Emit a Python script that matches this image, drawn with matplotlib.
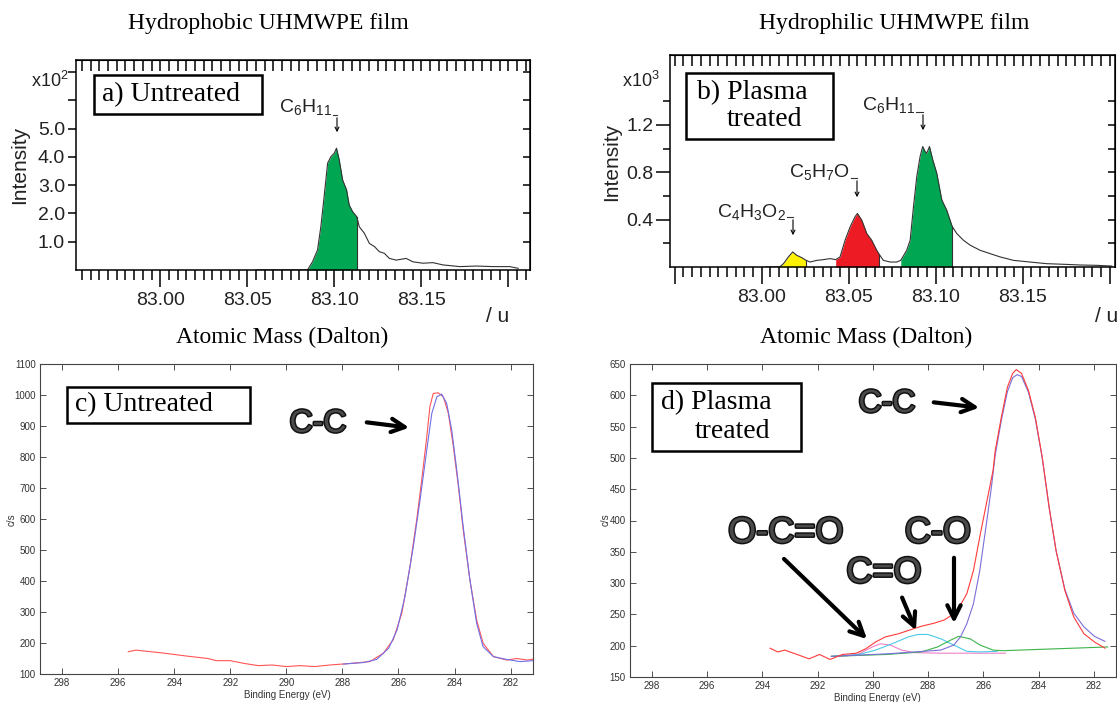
import matplotlib
matplotlib.use('Agg')
import matplotlib.pyplot as plt
import matplotlib.patheffects as pe
from matplotlib.patches import Rectangle, FancyArrowPatch
from matplotlib.ticker import MultipleLocator, FuncFormatter

W, H = 1117, 702

# a) ToF-SIMS, hydrophobic (untreated) film, intensity in x10^2
mass_a = [83.0550, 83.0846, 83.0875, 83.0904, 83.0923, 83.0942, 83.0962, 83.0981,
          83.1000, 83.1013, 83.1029, 83.1048, 83.1071, 83.1086, 83.1106, 83.1129,
          83.1144, 83.1173, 83.1202, 83.1231, 83.1259, 83.1288, 83.1317, 83.1356,
          83.1413, 83.1452, 83.1509, 83.1567, 83.1625, 83.1721, 83.1817, 83.1913,
          83.2009, 83.2057]
int_a = [0.0, 0.0, 0.29, 0.71, 1.53, 2.60, 3.78, 4.01,
         4.13, 4.31, 3.89, 3.19, 2.83, 2.30, 2.06, 1.89,
         1.53, 1.30, 0.94, 0.83, 0.65, 0.59, 0.41, 0.35,
         0.41, 0.29, 0.24, 0.26, 0.18, 0.12, 0.14, 0.12,
         0.12, 0.06]
fill_a = [(83.0846, 83.1129, '#00a651')]

# b) ToF-SIMS, hydrophilic (plasma treated) film, intensity in x10^3
mass_b = [83.0025, 83.0102, 83.0125, 83.0153, 83.0178, 83.0201, 83.0230, 83.0255,
          83.0278, 83.0316, 83.0354, 83.0393, 83.0425, 83.0450, 83.0479, 83.0508,
          83.0536, 83.0550, 83.0575, 83.0604, 83.0632, 83.0661, 83.0676, 83.0699,
          83.0738, 83.0776, 83.0799, 83.0833, 83.0853, 83.0872, 83.0891, 83.0910,
          83.0925, 83.0939, 83.0948, 83.0964, 83.0983, 83.1006, 83.1035, 83.1063,
          83.1092, 83.1096, 83.1121, 83.1159, 83.1198, 83.1255, 83.1312, 83.1370,
          83.1447, 83.1542, 83.1638, 83.1734, 83.1830, 83.1926, 83.2012]
int_b = [0.0, 0.0, 0.028, 0.085, 0.127, 0.099, 0.079, 0.056,
         0.042, 0.056, 0.062, 0.071, 0.062, 0.085, 0.226, 0.339,
         0.424, 0.452, 0.395, 0.282, 0.226, 0.141, 0.105, 0.056,
         0.042, 0.042, 0.056, 0.141, 0.226, 0.508, 0.763, 0.932,
         1.017, 0.975, 0.960, 1.017, 0.904, 0.791, 0.565, 0.480,
         0.353, 0.339, 0.282, 0.226, 0.184, 0.141, 0.113, 0.085,
         0.056, 0.042, 0.028, 0.023, 0.017, 0.014, 0.008]
fill_b = [(83.0102, 83.0255, '#fff200'),
          (83.0425, 83.0676, '#ed1c24'),
          (83.0799, 83.1096, '#00a651')]

# c) XPS C1s, untreated: measured (red) and fit (blue)
be_c = [295.64, 295.36, 294.85, 294.34, 293.57, 292.8, 292.5, 292.0, 291.5, 291.0,
        290.5, 290.0, 289.5, 289.0, 288.45, 287.73, 287.02, 286.54, 286.19, 285.88,
        285.59, 285.35, 285.17, 284.99, 284.88, 284.76, 284.58, 284.40, 284.22, 284.04,
        283.86, 283.69, 283.45, 283.21, 282.98, 282.61, 282.14, 281.78, 281.4, 281.2]
cps_c = [172, 177, 172, 167, 158, 150, 143, 143, 134, 127,
         129, 124, 127, 124, 129, 134, 140, 167, 210, 296,
         446, 597, 726, 865, 962, 1005, 1007, 994, 941, 833,
         704, 565, 403, 274, 199, 156, 145, 150, 145, 148]
be_c_fit = [287.97, 287.24, 286.78, 286.35, 286.05, 285.77, 285.47, 285.23, 284.99, 284.81,
            284.63, 284.46, 284.28, 284.10, 283.92, 283.69, 283.45, 283.21, 282.98, 282.61,
            282.14, 281.66, 281.36, 281.2]
cps_c_fit = [132, 137, 147, 183, 242, 349, 511, 661, 823, 941,
             994, 1003, 973, 887, 758, 575, 403, 263, 188, 156,
             147, 140, 142, 143]

# d) XPS C1s, plasma treated: measured envelope and fitted components
be_d = [293.72, 293.44, 293.19, 292.68, 292.31, 291.93, 291.55, 291.1, 290.6, 290.26,
        289.9, 289.55, 289.08, 288.6, 288.25, 287.78, 287.42, 287.07, 286.83, 286.6,
        286.36, 286.13, 285.89, 285.65, 285.57, 285.35, 285.13, 284.94, 284.81, 284.62,
        284.37, 284.12, 283.87, 283.62, 283.37, 283.05, 282.73, 282.36, 281.98, 281.6]
cps_d = [196, 190, 193, 185, 179, 186, 178, 186, 188, 195,
         206, 214, 219, 226, 231, 236, 241, 251, 265, 283,
         320, 374, 427, 480, 512, 565, 613, 635, 641, 635,
         608, 565, 501, 421, 352, 288, 246, 219, 206, 196]
be_cc = [291.5, 290.5, 289.5, 288.5, 287.54, 287.07, 286.83, 286.6, 286.36, 286.13,
         285.89, 285.71, 285.57, 285.35, 285.13, 284.94, 284.78, 284.62, 284.37, 284.12,
         283.87, 283.62, 283.37, 283.05, 282.73, 282.36, 281.98, 281.6]
cps_cc = [183, 185, 187, 190, 193, 201, 214, 235, 267, 320,
          395, 453, 505, 560, 606, 628, 633, 630, 605, 562,
          500, 421, 352, 290, 252, 230, 215, 207]
be_co = [291.5, 289.5, 288.25, 287.66, 287.18, 286.89, 286.48, 286.12, 285.65, 285.3, 281.5]
cps_co = [183, 186, 190, 198, 209, 215, 211, 201, 193, 192, 198]
be_c_o = [291.5, 290.5, 289.9, 289.31, 288.72, 288.37, 288.01, 287.54, 287.07, 286.6, 286.12, 285.5]
cps_c_o = [183, 186, 193, 203, 214, 218, 218, 211, 201, 191, 190, 191]
be_oco = [291.5, 290.9, 290.5, 290.02, 289.73, 289.37, 288.96, 288.5, 287.5, 286.5, 285.2]
cps_oco = [183, 184, 187, 198, 203, 201, 193, 189, 188, 188, 188]

plt.rcParams['font.family'] = ['Liberation Sans', 'DejaVu Sans']
plt.rcParams['mathtext.fontset'] = 'custom'
plt.rcParams['mathtext.rm'] = 'Liberation Sans'
plt.rcParams['mathtext.it'] = 'Liberation Sans'

fig = plt.figure(figsize=(W / 100, H / 100), dpi=100)
fig.patch.set_facecolor('white')
serif = ['Liberation Serif', 'DejaVu Serif']
bond_fx = [pe.withStroke(linewidth=2.2, foreground='#111')]


def frac(x, y):
    return x / W, 1 - y / H


def rect(l, t, r, b):
    return [l / W, 1 - b / H, (r - l) / W, (b - t) / H]


def ftext(x, y, s, **kw):
    fig.text(*frac(x, y), s, **kw)


def bond(x, y, s, size):
    ftext(x, y, s, fontsize=size, ha='center', va='center', color='#4a4a4a',
          path_effects=bond_fx)


def box(x0, y0, x1, y1, lw=1.8):
    fig.add_artist(Rectangle(frac(x0, y1), (x1 - x0) / W, (y1 - y0) / H,
                             transform=fig.transFigure, fill=False, ec='black', lw=lw))


def farrow(x0, y0, x1, y1, lw=3, ms=24, style='->'):
    fig.add_artist(FancyArrowPatch(frac(x0, y0), frac(x1, y1), transform=fig.transFigure,
                                   arrowstyle=style, mutation_scale=ms, lw=lw, color='black'))


def tof_axes(ax, xlim, ylim, yticks, ylabels, yminor, ylen):
    ax.set_xlim(*xlim)
    ax.set_ylim(*ylim)
    for s in ax.spines.values():
        s.set_linewidth(1.1)
    ax.xaxis.set_major_locator(MultipleLocator(0.05))
    ax.xaxis.set_minor_locator(MultipleLocator(0.005))
    ax.xaxis.set_major_formatter(FuncFormatter(
        lambda v, p: f'{v:.2f}' if 82.99 < v < 83.16 else ''))
    ax.tick_params(axis='x', which='major', direction='out', length=12, width=1.1,
                   labelsize=14, pad=4, labelcolor='#222')
    ax.tick_params(axis='x', which='minor', direction='out', length=7, width=1.1)
    ax.set_yticks(yticks)
    ax.set_yticklabels(ylabels)
    ax.set_yticks(yminor, minor=True)
    ax.tick_params(axis='y', which='major', direction='out', length=ylen, width=1.1,
                   labelsize=14, pad=2, labelcolor='#222')
    ax.tick_params(axis='y', which='minor', direction='out', length=5, width=1.1)
    top = ax.secondary_xaxis('top')
    top.xaxis.set_major_locator(MultipleLocator(0.005))
    top.tick_params(direction='in', length=8, width=1.1, labeltop=False)
    right = ax.secondary_yaxis('right')
    right.set_yticks(list(yticks) + list(yminor))
    right.tick_params(direction='in', length=5, width=1.1, labelright=False)


def tof_plot(ax, mass, inten, fills):
    for lo, hi, col in fills:
        sel = [(m, v) for m, v in zip(mass, inten) if lo <= m <= hi]
        xs = [p[0] for p in sel]
        ys = [p[1] for p in sel]
        ax.fill_between(xs, 0, ys, color=col, lw=0)
        ax.plot([hi, hi], [0, ys[-1]], color='#333', lw=0.8)
    ax.plot(mass, inten, color='#333', lw=0.8)


# ---- panel a
ax_a = fig.add_axes(rect(76, 60, 530, 270))
tof_plot(ax_a, mass_a, int_a, fill_a)
tof_axes(ax_a, (82.9516, 83.2125), (0, 7.43), [1, 2, 3, 4, 5, 6, 7],
         ['1.0', '2.0', '3.0', '4.0', '5.0', '', ''], [], 6)

# ---- panel b
ax_b = fig.add_axes(rect(670, 55, 1115, 267))
tof_plot(ax_b, mass_b, int_b, fill_b)
tof_axes(ax_b, (82.9473, 83.2030), (0, 1.79), [0.4, 0.8, 1.2],
         ['0.4', '0.8', '1.2'], [0.2, 0.6, 1.0, 1.4], 10)

ftext(268, 24, 'Hydrophobic UHMWPE film', family=serif, fontsize=17, ha='center', va='center')
ftext(894, 24, 'Hydrophilic UHMWPE film', family=serif, fontsize=17, ha='center', va='center')
for cx, ux in [(282, 498), (866, 1107)]:
    ftext(cx, 337, 'Atomic Mass (Dalton)', family=serif, fontsize=17, ha='center', va='center')
    ftext(ux, 317, '/ u', fontsize=15, ha='center', va='center', color='#222')
ftext(20, 165, 'Intensity', fontsize=15, rotation=90, ha='center', va='center', color='#222')
ftext(612, 162, 'Intensity', fontsize=15, rotation=90, ha='center', va='center', color='#222')
ftext(50, 81, r'x10$^2$', fontsize=13, ha='center', va='center', color='#222')
ftext(641, 81, r'x10$^3$', fontsize=13, ha='center', va='center', color='#222')

box(94, 75, 262, 114)
ftext(102, 95, 'a) Untreated', family=serif, fontsize=20, ha='left', va='center')
box(686, 73, 833, 139)
ftext(697, 93, 'b) Plasma', family=serif, fontsize=20, ha='left', va='center')
ftext(727, 120, 'treated', family=serif, fontsize=20, ha='left', va='center')

# peak labels with little bracket arrows
for lx, ly, ax_x, y0, y1, s in [(332, 107, 337, 115, 135, r'C$_6$H$_{11}$'),
                               (915, 105, 923, 112, 133, r'C$_6$H$_{11}$'),
                               (850, 172, 857, 178, 200, r'C$_5$H$_7$O'),
                               (786, 212, 793, 217, 238, r'C$_4$H$_3$O$_2$')]:
    ftext(lx, ly, s, fontsize=14, ha='right', va='center', color='#222')
    fig.add_artist(plt.Line2D([frac(lx + 1, 0)[0], frac(ax_x, 0)[0]],
                              [frac(0, y0)[1], frac(0, y0)[1]],
                              transform=fig.transFigure, color='#333', lw=0.8))
    farrow(ax_x, y0, ax_x, y1, lw=0.8, ms=7, style='->')


# ---- panels c, d
def xps_axes(ax, ylim, ystep):
    ax.set_xlim(298.79, 281.2)
    ax.set_ylim(*ylim)
    ax.xaxis.set_major_locator(MultipleLocator(2))
    ax.yaxis.set_major_locator(MultipleLocator(ystep))
    ax.tick_params(direction='in', top=True, right=True, length=4, width=0.6,
                   labelsize=7, pad=3, colors='#333')
    for s in ax.spines.values():
        s.set_linewidth(0.8)
        s.set_color('#444')


ax_c = fig.add_axes(rect(40, 364, 533, 674))
ax_c.plot(be_c, cps_c, color='#ff5555', lw=0.8)
ax_c.plot(be_c_fit, cps_c_fit, color='#7070e8', lw=0.8)
xps_axes(ax_c, (100, 1100), 100)
ftext(287, 695, 'Binding Energy (eV)', fontsize=7, ha='center', va='center', color='#333')
ftext(12, 520, 'c/s', fontsize=7, rotation=90, ha='center', va='center', color='#333')
box(67, 387, 250, 423)
ftext(75, 405, 'c) Untreated', family=serif, fontsize=20, ha='left', va='center')
bond(318, 424, 'C-C', 23)
farrow(364, 422, 412, 428)

ax_d = fig.add_axes(rect(630, 364, 1116, 677))
ax_d.plot(be_oco, cps_oco, color='#ee82c8', lw=0.8)
ax_d.plot(be_c_o, cps_c_o, color='#4cc9e8', lw=0.8)
ax_d.plot(be_co, cps_co, color='#3cb44b', lw=0.8)
ax_d.plot(be_cc, cps_cc, color='#7b6fd8', lw=0.8)
ax_d.plot(be_d, cps_d, color='#ff3b3b', lw=0.8)
xps_axes(ax_d, (150, 650), 50)
ftext(877, 698, 'Binding Energy (eV)', fontsize=7, ha='center', va='center', color='#333')
ftext(606, 520, 'c/s', fontsize=7, rotation=90, ha='center', va='center', color='#333')
box(652, 383, 801, 451)
ftext(661, 403, 'd) Plasma', family=serif, fontsize=20, ha='left', va='center')
ftext(695, 432, 'treated', family=serif, fontsize=20, ha='left', va='center')
bond(887, 404, 'C-C', 23)
farrow(931, 402, 982, 408)
bond(786, 533, 'O-C=O', 26)
farrow(782, 557, 869, 641)
bond(884, 573, 'C=O', 26)
farrow(901, 595, 917, 633)
bond(938, 533, 'C-O', 26)
farrow(954, 555, 954, 626)

fig.savefig('out.png', dpi=100, facecolor='white')
